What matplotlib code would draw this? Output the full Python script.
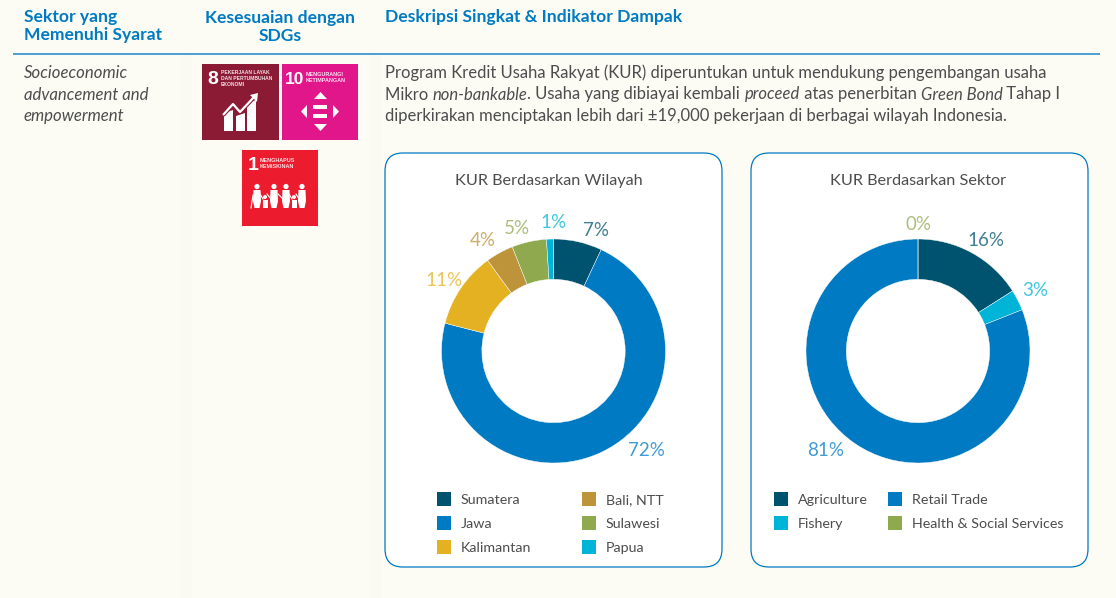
# Sektor table with two KUR donuts

import matplotlib
matplotlib.use('Agg')
import matplotlib.pyplot as plt
from matplotlib.patches import Rectangle, FancyBboxPatch, Polygon, Circle

plt.rcParams['font.family'] = ['Lato', 'DejaVu Sans']

headers = ['Sektor yang\nMemenuhi Syarat', 'Kesesuaian dengan\nSDGs', 'Deskripsi Singkat & Indikator Dampak']
sector_text = ['Socioeconomic', 'advancement and', 'empowerment']
body_lines = [
    [('Program Kredit Usaha Rakyat (KUR) diperuntukan untuk mendukung pengembangan usaha', 'normal')],
    [('Mikro ', 'normal'), ('non-bankable', 'italic'), ('. Usaha yang dibiayai kembali ', 'normal'),
     ('proceed', 'italic'), (' atas penerbitan ', 'normal'), ('Green Bond', 'italic'), (' Tahap I', 'normal')],
    [('diperkirakan menciptakan lebih dari ±19,000 pekerjaan di berbagai wilayah Indonesia.', 'normal')],
]

region_title = 'KUR Berdasarkan Wilayah'
region_names = ['Sumatera', 'Jawa', 'Kalimantan', 'Bali, NTT', 'Sulawesi', 'Papua']
region_values = [7, 72, 11, 4, 5, 1]
region_colors = ['#00536f', '#007ac2', '#e3b122', '#bd9439', '#8fa94e', '#00b4d8']

sector_title = 'KUR Berdasarkan Sektor'
sector_names = ['Agriculture', 'Fishery', 'Retail Trade', 'Health & Social Services']
sector_values = [16, 3, 81, 0]
sector_colors = ['#00536f', '#00b4d8', '#007ac2', '#8fa94e']

BG = '#fcfcf4'
BLUE = '#007ac2'
GREY = '#4d4d4f'
TILE_FONT = ['Liberation Sans', 'DejaVu Sans']

fig = plt.figure(figsize=(11.16, 5.98), dpi=100, facecolor=BG)
ax = fig.add_axes([0, 0, 1, 1])
ax.set_xlim(0, 1116)
ax.set_ylim(598, 0)
ax.axis('off')

# faint darker gutters between the columns
for x0 in (180, 369):
    ax.add_patch(Rectangle((x0, 55), 12, 543, color='#fafaf0', lw=0))

# header
ax.text(24, 26, headers[0], color=BLUE, fontsize=12.6, fontweight='bold', va='center', linespacing=1.13)
ax.text(280, 27, headers[1], color=BLUE, fontsize=12.6, fontweight='bold', va='center', ha='center', linespacing=1.13)
ax.text(385, 17, headers[2], color=BLUE, fontsize=12.6, fontweight='bold', va='center')
ax.plot([14, 1099], [54, 54], color='#4a9fd3', lw=1.4)

for i, s in enumerate(sector_text):
    ax.text(24, 73 + i * 21.5, s, color=GREY, fontsize=12.1, style='italic', va='center')


def draw_runs(x, y, runs):
    r = fig.canvas.get_renderer()
    for s, st in runs:
        # keep the trailing space width by measuring with a dot on the end
        ax.text(x, y, s, color=GREY, fontsize=12, style=st, va='center')
        w = ax.text(0, 0, s + '.', fontsize=12, style=st).get_window_extent(r).width
        d = ax.text(0, 0, '.', fontsize=12, style=st).get_window_extent(r).width
        ax.texts[-1].remove()
        ax.texts[-1].remove()
        x += w - d


for i, runs in enumerate(body_lines):
    draw_runs(385, 73 + i * 21.5, runs)

# SDG tiles
ax.add_patch(Rectangle((202, 64), 77, 76, color='#8b1a35', lw=0))
ax.add_patch(Rectangle((282, 64), 76, 76, color='#e0168a', lw=0))
ax.add_patch(Rectangle((242, 150), 76, 76, color='#ec1c2e', lw=0))

ax.text(213, 79, '8', color='white', fontsize=14, fontweight='bold', family=TILE_FONT, ha='center', va='center')
ax.text(221, 78.5, 'PEKERJAAN LAYAK\nDAN PERTUMBUHAN\nEKONOMI', color='#f6dfe4', fontsize=3.6,
        fontweight='bold', family=TILE_FONT, va='center', linespacing=1.25)
ax.text(295, 79, '10', color='white', fontsize=12.5, fontweight='bold', family=TILE_FONT, ha='center', va='center')
ax.text(306, 77.5, 'MENGURANGI\nKETIMPANGAN', color='#fde3f2', fontsize=3.9, fontweight='bold',
        family=TILE_FONT, va='center', linespacing=1.25)
ax.text(253.5, 165, '1', color='white', fontsize=14, fontweight='bold', family=TILE_FONT, ha='center', va='center')
ax.text(260, 164, 'MENGHAPUS\nKEMISKINAN', color='#fde0e3', fontsize=3.9, fontweight='bold',
        family=TILE_FONT, va='center', linespacing=1.25)

# tile 8: rising bars and arrow
for x0, top in ((224, 113), (236, 116), (247, 103)):
    ax.add_patch(Polygon([(x0, top), (x0 + 9, top - 3), (x0 + 9, 131), (x0, 131)], color='white', lw=0))
ax.plot([223, 233, 240, 255], [115, 104, 112, 96], color='#8b1a35', lw=3.2, solid_capstyle='butt', zorder=3)
ax.plot([223, 233, 240, 255], [115, 104, 112, 96], color='white', lw=1.6, solid_capstyle='butt', zorder=4)
ax.add_patch(Polygon([(258, 93), (250, 95), (257, 102)], color='white', lw=0, zorder=4))

# tile 10: equals sign and four arrows
ax.add_patch(Rectangle((313, 105), 14, 4, color='white', lw=0))
ax.add_patch(Rectangle((313, 114), 14, 4, color='white', lw=0))
ax.add_patch(Polygon([(314, 99), (327, 99), (320.5, 92)], color='white', lw=0))
ax.add_patch(Polygon([(314, 124), (327, 124), (320.5, 131)], color='white', lw=0))
ax.add_patch(Polygon([(307, 105), (307, 118), (301, 111.5)], color='white', lw=0))
ax.add_patch(Polygon([(333, 105), (333, 118), (339, 111.5)], color='white', lw=0))

# tile 1: family, adults then children
for cx in (257, 274, 286, 302):
    ax.add_patch(Circle((cx, 186.5), 2.6, color='white', lw=0))
    ax.add_patch(Polygon([(cx - 3.5, 190), (cx + 3.5, 190), (cx + 4, 201), (cx + 2.5, 208),
                          (cx - 2.5, 208), (cx - 4, 201)], color='white', lw=0))
for cx in (265, 294):
    ax.add_patch(Circle((cx, 197), 2, color='white', lw=0))
    ax.add_patch(Rectangle((cx - 2.5, 199.5), 5, 8.5, color='white', lw=0))
ax.plot([253, 251], [195, 208], color='white', lw=0.8)
for x0, x1 in ((260, 263), (267, 271), (278, 283), (289, 292), (296, 299)):
    ax.plot([x0, x1], [194, 199], color='white', lw=0.8)

# donut cards
for x0 in (385, 751):
    ax.add_patch(FancyBboxPatch((x0 + 18, 153 + 18), 337 - 36, 414 - 36,
                                boxstyle='round,pad=18,rounding_size=18',
                                fc='white', ec=BLUE, lw=0.9))


def donut(cx, cy, values, colors):
    r = 112
    a = fig.add_axes([(cx - r) / 1116, 1 - (cy + r) / 598, 2 * r / 1116, 2 * r / 598])
    a.pie(values, colors=colors, startangle=90, counterclock=False, radius=1,
          wedgeprops=dict(width=0.36, lw=0.3, edgecolor='white'))
    a.set_xlim(-1, 1)
    a.set_ylim(-1, 1)
    a.patch.set_alpha(0)


donut(553.5, 351, region_values, region_colors)
donut(918, 351, sector_values, sector_colors)

ax.text(549, 181, region_title, color=GREY, fontsize=11.7, ha='center', va='center')
ax.text(918, 181, sector_title, color=GREY, fontsize=11.7, ha='center', va='center')

region_pos = [(596, 230), (646, 451), (444, 280), (483, 241), (517, 228), (554, 223)]
for v, c, p in zip(region_values, region_colors, region_pos):
    ax.text(p[0], p[1], f'{v}%', color=c, alpha=0.75, fontsize=13.5, ha='center', va='center')
sector_pos = [(986, 241), (1035, 291), (826, 451), (918, 225)]
for v, c, p in zip(sector_values, sector_colors, sector_pos):
    ax.text(p[0], p[1], f'{v}%', color=c, alpha=0.75, fontsize=13.5, ha='center', va='center')

# legends
region_leg = [(437, 499), (437, 523), (437, 547), (582, 499), (582, 523), (582, 547)]
for n, c, p in zip(region_names, region_colors, region_leg):
    ax.add_patch(Rectangle((p[0], p[1] - 7), 14, 14, color=c, lw=0))
    ax.text(p[0] + 24, p[1] + 1, n, color=GREY, fontsize=10.3, va='center')
sector_leg = [(774, 499), (774, 523), (888, 499), (888, 523)]
for n, c, p in zip(sector_names, sector_colors, sector_leg):
    ax.add_patch(Rectangle((p[0], p[1] - 7), 14, 14, color=c, lw=0))
    ax.text(p[0] + 24, p[1] + 1, n, color=GREY, fontsize=10.3, va='center')

fig.savefig('out.png', dpi=100, facecolor=BG)
